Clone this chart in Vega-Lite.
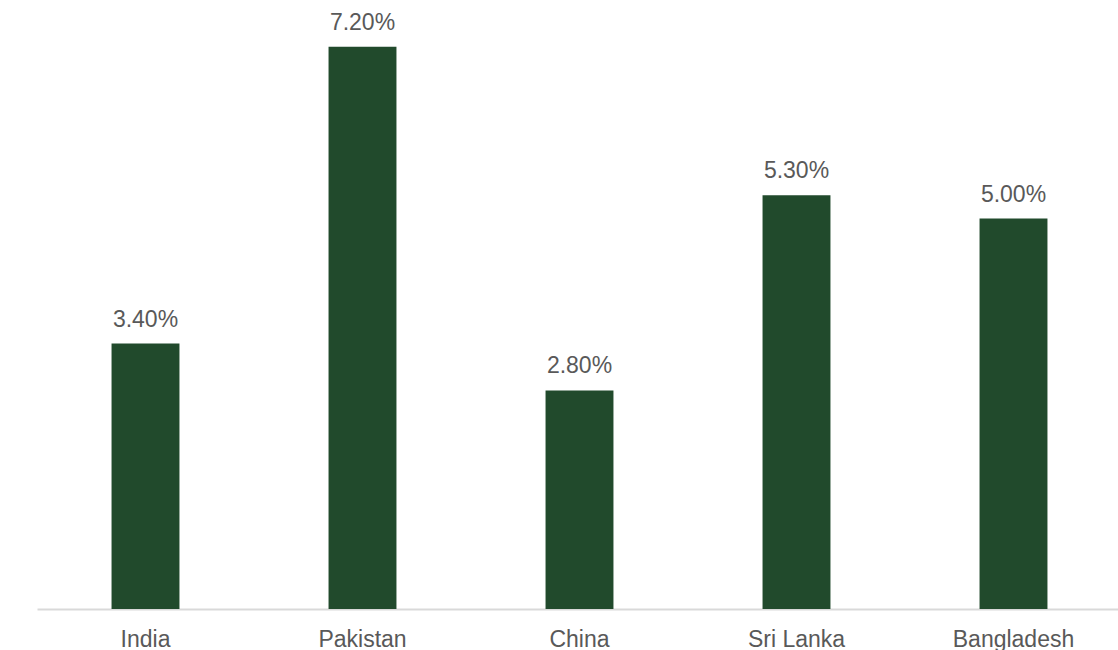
{
  "$schema": "https://vega.github.io/schema/vega-lite/v6.json",
  "autosize": "none",
  "padding": {"left": 37, "top": 0, "right": 0, "bottom": 41},
  "width": 1081,
  "height": 609,
  "background": "white",
  "config": {"view": {"stroke": null}, "font": "Liberation Sans"},
  "data": {"values": [
    {"country": "India", "value": 0.034},
    {"country": "Pakistan", "value": 0.072},
    {"country": "China", "value": 0.028},
    {"country": "Sri Lanka", "value": 0.053},
    {"country": "Bangladesh", "value": 0.05}
  ]},
  "encoding": {
    "x": {"field": "country", "type": "nominal", "sort": null,
      "scale": {"range": [0, 1085], "paddingInner": 0.687, "paddingOuter": 0.3435},
      "axis": {"title": null, "domainColor": "#d9d9d9", "domainWidth": 2, "ticks": false,
        "labelFont": "Liberation Sans", "labelFontSize": 23, "labelColor": "#595959", "labelPadding": 19, "labelAngle": 0}},
    "y": {"field": "value", "type": "quantitative", "scale": {"domain": [0, 0.078], "nice": false}, "axis": null}
  },
  "layer": [
    {"mark": {"type": "bar", "color": "#214a2c"}},
    {"mark": {"type": "text", "baseline": "alphabetic", "dy": -17, "fontSize": 23, "color": "#595959", "font": "Liberation Sans"},
     "encoding": {"text": {"field": "value", "type": "quantitative", "format": ".2%"}}}
  ]
}
